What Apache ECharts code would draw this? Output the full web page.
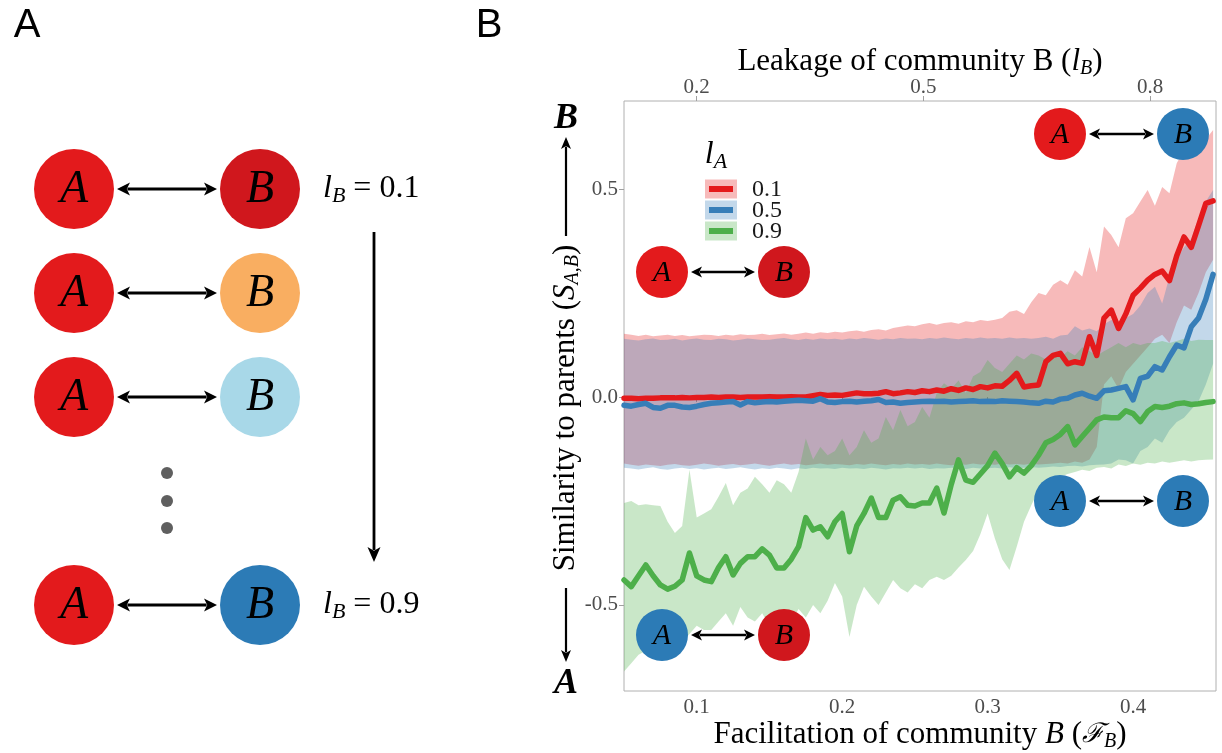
<!DOCTYPE html>
<html>
<head>
<meta charset="utf-8">
<script src="https://cdn.jsdelivr.net/npm/echarts@6/dist/echarts.min.js"></script>
<style>html,body{margin:0;padding:0;background:#fff;}#c{width:1222px;height:753px;}</style>
</head>
<body>
<div id="c"></div>
<script>
// ---------- data ----------
const facilitation = [0.050,0.055,0.060,0.065,0.070,0.075,0.080,0.085,0.090,0.095,
  0.100,0.105,0.110,0.115,0.120,0.125,0.130,0.135,0.140,0.145,
  0.150,0.155,0.160,0.165,0.170,0.175,0.180,0.185,0.190,0.195,
  0.200,0.205,0.210,0.215,0.220,0.225,0.230,0.235,0.240,0.245,
  0.250,0.255,0.260,0.265,0.270,0.275,0.280,0.285,0.290,0.295,
  0.300,0.305,0.310,0.315,0.320,0.325,0.330,0.335,0.340,0.345,
  0.350,0.355,0.360,0.365,0.370,0.375,0.380,0.385,0.390,0.395,
  0.400,0.405,0.410,0.415,0.420,0.425,0.430,0.435,0.440,0.445,
  0.450,0.455];

const legendLabels = ['0.1','0.5','0.9'];
const bottomTicks = [0.1,0.2,0.3,0.4];
const topTicks = [0.2,0.5,0.8];
const leftTicks = [-0.5,0,0.5];

const mean01 = [-0.003,-0.003,-0.004,-0.003,-0.003,-0.002,-0.002,-0.002,-0.001,-0.002,
  -0.001,-0.001,0.000,-0.001,0.000,0.000,-0.001,0.000,0.000,0.000,
  0.001,0.000,0.000,0.001,0.000,0.000,0.003,0.006,0.004,0.005,
  0.004,0.007,0.010,0.008,0.008,0.009,0.013,0.008,0.010,0.013,
  0.011,0.015,0.013,0.017,0.014,0.020,0.016,0.022,0.018,0.025,
  0.022,0.027,0.026,0.040,0.057,0.024,0.027,0.029,0.085,0.100,
  0.105,0.080,0.085,0.081,0.145,0.100,0.190,0.209,0.165,0.200,
  0.245,0.262,0.281,0.295,0.303,0.280,0.340,0.385,0.360,0.412,
  0.466,0.472];
const upper01 = [0.152,0.150,0.147,0.150,0.146,0.148,0.150,0.147,0.149,0.146,
  0.148,0.150,0.149,0.147,0.150,0.148,0.151,0.149,0.150,0.152,
  0.149,0.151,0.153,0.150,0.152,0.155,0.152,0.156,0.154,0.157,
  0.155,0.158,0.160,0.157,0.161,0.163,0.160,0.166,0.169,0.172,
  0.170,0.175,0.178,0.174,0.178,0.180,0.176,0.182,0.180,0.185,
  0.183,0.186,0.190,0.205,0.209,0.200,0.228,0.250,0.245,0.270,
  0.281,0.270,0.305,0.290,0.361,0.300,0.410,0.390,0.360,0.430,
  0.442,0.470,0.498,0.460,0.505,0.490,0.562,0.594,0.585,0.600,
  0.620,0.642];
const lower01 = [-0.160,-0.163,-0.165,-0.162,-0.164,-0.166,-0.163,-0.161,-0.164,-0.165,
  -0.163,-0.160,-0.162,-0.165,-0.163,-0.161,-0.164,-0.162,-0.160,-0.163,
  -0.165,-0.162,-0.160,-0.163,-0.161,-0.164,-0.162,-0.160,-0.163,-0.161,
  -0.162,-0.164,-0.161,-0.163,-0.160,-0.162,-0.164,-0.161,-0.163,-0.160,
  -0.162,-0.161,-0.163,-0.160,-0.162,-0.164,-0.161,-0.163,-0.160,-0.162,
  -0.161,-0.163,-0.160,-0.162,-0.161,-0.163,-0.160,-0.162,-0.161,-0.160,
  -0.158,-0.160,-0.155,-0.158,-0.150,-0.120,0.030,0.050,0.020,0.060,
  0.080,0.100,0.120,0.140,0.150,0.130,0.180,0.220,0.210,0.250,
  0.300,0.330];

const mean05 = [-0.020,-0.022,-0.018,-0.015,-0.025,-0.027,-0.020,-0.020,-0.024,-0.025,
  -0.022,-0.018,-0.015,-0.014,-0.012,-0.011,-0.019,-0.011,-0.014,-0.012,
  -0.011,-0.012,-0.010,-0.009,-0.008,-0.009,-0.010,-0.004,-0.012,-0.013,
  -0.011,-0.010,-0.012,-0.010,-0.009,-0.006,-0.013,-0.012,-0.015,-0.013,
  -0.012,-0.011,-0.010,-0.011,-0.010,-0.012,-0.011,-0.010,-0.009,-0.011,
  -0.010,-0.011,-0.009,-0.010,-0.011,-0.012,-0.014,-0.015,-0.010,-0.012,
  -0.005,-0.003,0.005,0.009,0.002,-0.003,0.015,0.017,0.021,0.025,
  -0.007,0.045,0.050,0.073,0.065,0.097,0.125,0.118,0.169,0.190,
  0.235,0.295];
const upper05 = [0.140,0.138,0.136,0.139,0.141,0.137,0.138,0.140,0.136,0.139,
  0.141,0.138,0.137,0.140,0.139,0.136,0.138,0.141,0.139,0.137,
  0.138,0.140,0.142,0.139,0.137,0.140,0.138,0.141,0.139,0.140,
  0.138,0.141,0.139,0.142,0.140,0.138,0.141,0.139,0.142,0.140,
  0.141,0.139,0.142,0.140,0.143,0.141,0.139,0.142,0.140,0.143,
  0.141,0.142,0.140,0.143,0.141,0.142,0.140,0.142,0.145,0.140,
  0.148,0.150,0.170,0.160,0.165,0.158,0.175,0.185,0.180,0.190,
  0.200,0.220,0.250,0.265,0.225,0.290,0.330,0.360,0.380,0.430,
  0.470,0.498];
const lower05 = [-0.170,-0.172,-0.174,-0.171,-0.169,-0.173,-0.175,-0.172,-0.170,-0.173,
  -0.171,-0.174,-0.172,-0.170,-0.173,-0.171,-0.169,-0.172,-0.174,-0.171,
  -0.173,-0.170,-0.172,-0.174,-0.171,-0.173,-0.170,-0.172,-0.171,-0.173,
  -0.170,-0.172,-0.171,-0.173,-0.170,-0.172,-0.174,-0.171,-0.172,-0.170,
  -0.172,-0.170,-0.173,-0.171,-0.172,-0.170,-0.171,-0.173,-0.170,-0.172,
  -0.171,-0.170,-0.172,-0.169,-0.171,-0.170,-0.168,-0.170,-0.169,-0.167,
  -0.168,-0.166,-0.165,-0.167,-0.164,-0.163,-0.162,-0.160,-0.150,-0.152,
  -0.160,-0.130,-0.120,-0.100,-0.110,-0.080,-0.060,-0.050,-0.030,-0.010,
  0.030,0.080];

const mean09 = [-0.440,-0.456,-0.430,-0.404,-0.430,-0.452,-0.462,-0.455,-0.440,-0.375,
  -0.430,-0.440,-0.444,-0.410,-0.384,-0.428,-0.400,-0.384,-0.384,-0.365,
  -0.380,-0.411,-0.411,-0.390,-0.360,-0.290,-0.320,-0.312,-0.336,-0.300,
  -0.280,-0.372,-0.310,-0.280,-0.243,-0.290,-0.290,-0.248,-0.240,-0.260,
  -0.262,-0.255,-0.255,-0.219,-0.279,-0.210,-0.151,-0.200,-0.205,-0.185,
  -0.165,-0.135,-0.160,-0.192,-0.170,-0.183,-0.165,-0.140,-0.110,-0.102,
  -0.090,-0.071,-0.115,-0.095,-0.075,-0.055,-0.048,-0.050,-0.050,-0.033,
  -0.040,-0.059,-0.035,-0.023,-0.025,-0.022,-0.016,-0.014,-0.018,-0.016,
  -0.013,-0.011];
const upper09 = [-0.255,-0.250,-0.260,-0.258,-0.260,-0.262,-0.300,-0.327,-0.310,-0.175,
  -0.290,-0.280,-0.270,-0.240,-0.207,-0.260,-0.230,-0.220,-0.192,-0.210,
  -0.230,-0.200,-0.210,-0.230,-0.180,-0.100,-0.150,-0.120,-0.140,-0.130,
  -0.100,-0.140,-0.120,-0.080,-0.110,-0.100,-0.048,-0.080,-0.031,-0.070,
  -0.060,-0.024,-0.050,0.010,0.033,0.020,0.040,0.010,0.050,0.060,
  0.089,0.070,0.060,0.080,0.100,0.090,0.105,0.100,0.090,0.100,
  0.095,0.110,0.100,0.120,0.110,0.100,0.110,0.120,0.130,0.120,
  0.130,0.125,0.130,0.130,0.135,0.130,0.135,0.140,0.135,0.138,
  0.137,0.137];
const lower09 = [-0.660,-0.640,-0.620,-0.610,-0.590,-0.600,-0.590,-0.580,-0.590,-0.570,
  -0.550,-0.560,-0.560,-0.540,-0.520,-0.550,-0.505,-0.530,-0.540,-0.520,
  -0.550,-0.560,-0.530,-0.540,-0.510,-0.530,-0.500,-0.520,-0.490,-0.447,
  -0.480,-0.577,-0.500,-0.456,-0.480,-0.500,-0.470,-0.440,-0.460,-0.470,
  -0.450,-0.460,-0.440,-0.432,-0.440,-0.430,-0.410,-0.392,-0.370,-0.330,
  -0.280,-0.340,-0.390,-0.416,-0.360,-0.300,-0.260,-0.224,-0.210,-0.200,
  -0.192,-0.185,-0.180,-0.175,-0.178,-0.170,-0.168,-0.172,-0.162,-0.166,
  -0.160,-0.163,-0.158,-0.160,-0.155,-0.158,-0.155,-0.152,-0.155,-0.152,
  -0.151,-0.150];

// ---------- styling ----------
const SERIF = "'Liberation Serif','DejaVu Serif',serif";
const SANS = "'Liberation Sans','DejaVu Sans',sans-serif";
const COLORS = ['#e41a1c','#377eb8','#4daf4a'];
const BANDS = ['rgba(228,26,28,0.3)','rgba(55,126,184,0.3)','rgba(77,175,74,0.3)'];

const pts = ys => facilitation.map((x,i)=>[x, ys[i]]);

const groups = [
  {mean: mean01, lo: lower01, hi: upper01},
  {mean: mean05, lo: lower05, hi: upper05},
  {mean: mean09, lo: lower09, hi: upper09}
];

const series = [];
// ribbons: one polygon per group, placed through the axis scales (api.coord)
groups.forEach((g,k)=>{
  series.push({
    type:'custom', silent:true, z:1, animation:false, clip:true,
    data: facilitation.map((x,i)=>[x, g.lo[i], g.hi[i]]),
    encode:{x:0, y:[1,2]},
    renderItem:(params, api)=>{
      if (params.dataIndex !== 0) return null;
      const top = [], bot = [];
      for (let i=0;i<facilitation.length;i++){
        top.push(api.coord([facilitation[i], g.hi[i]]));
        bot.push(api.coord([facilitation[i], g.lo[i]]));
      }
      return {type:'polygon', shape:{points: top.concat(bot.reverse())}, style:{fill:BANDS[k]}};
    }
  });
});
groups.forEach((g,k)=>{
  series.push({type:'line', data: pts(g.mean), symbol:'none', silent:true, z:3, animation:false,
    lineStyle:{color:COLORS[k], width:5.5, join:'round', cap:'round'}});
});

// ---------- decoration helpers ----------
function circ(cx,cy,r,fill){return {type:'circle', shape:{cx,cy,r}, style:{fill}, z:100, silent:true};}
function letter(x,y,t,size,extra){return {type:'text', x, y, z:101, silent:true,
  style:Object.assign({text:t, fontSize:size, fontFamily:SERIF, fontStyle:'italic', fill:'#000', align:'center', verticalAlign:'middle'}, extra||{})};}
function hArrow(x1,x2,y,lw,hl,hw){return [
  {type:'line', shape:{x1:x1+hl*0.8, y1:y, x2:x2-hl*0.8, y2:y}, style:{stroke:'#000', lineWidth:lw}, z:101, silent:true},
  {type:'polygon', shape:{points:[[x1,y],[x1+hl,y-hw],[x1+hl*0.75,y],[x1+hl,y+hw]]}, style:{fill:'#000'}, z:101, silent:true},
  {type:'polygon', shape:{points:[[x2,y],[x2-hl,y-hw],[x2-hl*0.75,y],[x2-hl,y+hw]]}, style:{fill:'#000'}, z:101, silent:true}];}
function vArrow(x,y1,y2,lw,hl,hw){const d=Math.sign(y2-y1);return [
  {type:'line', shape:{x1:x, y1:y1, x2:x, y2:y2-d*hl*0.8}, style:{stroke:'#000', lineWidth:lw}, z:101, silent:true},
  {type:'polygon', shape:{points:[[x,y2],[x-hw,y2-d*hl],[x,y2-d*hl*0.75],[x+hw,y2-d*hl]]}, style:{fill:'#000'}, z:101, silent:true}];}
function pair(ax,bx,y,r,fa,fb,fs,lw,hl,hw){return [circ(ax,y,r,fa), circ(bx,y,r,fb), letter(ax,y+1,'A',fs), letter(bx,y+1,'B',fs)]
  .concat(hArrow(ax+r+3, bx-r-3, y, lw, hl, hw));}

const RED='#e31a1c', DRED='#d0171d', ORANGE='#f9ae61', LBLUE='#a8d8e8', BLUE='#2c7bb6';

const graphic = [];
// panel letters
graphic.push({type:'text', x:27, y:26, style:{text:'A', fontFamily:SANS, fontSize:40, fill:'#000', align:'center', verticalAlign:'middle'}});
graphic.push({type:'text', x:489, y:26, style:{text:'B', fontFamily:SANS, fontSize:40, fill:'#000', align:'center', verticalAlign:'middle'}});
// panel A rows
const rowY = [189, 293, 397, 605];
const rowB = [DRED, ORANGE, LBLUE, BLUE];
rowY.forEach((y,i)=>{ pair(74,260,y,40,RED,rowB[i],46,2.8,13,6.5).forEach(e=>graphic.push(e)); });
[473,501,528].forEach(y=>graphic.push({type:'circle', shape:{cx:167,cy:y,r:6}, style:{fill:'#5f5f5f'}}));
vArrow(374,232,562,2.8,15,6.5).forEach(e=>graphic.push(e));
function mathText(x,y,text,size,subSize,align){return {type:'text', x, y, z:101, style:{
  text, fontFamily:SERIF, fontSize:size, lineHeight:size+5, fill:'#000', align, verticalAlign:'middle',
  rich:{i:{fontStyle:'italic', fontFamily:SERIF, fontSize:size, lineHeight:size+5},
        sub:{fontStyle:'italic', fontFamily:SERIF, fontSize:subSize, lineHeight:subSize-4, verticalAlign:'bottom'}}}};}
graphic.push(mathText(323,189,'{i|l}{sub|B} = 0.1',32,22,'left'));
graphic.push(mathText(323,605,'{i|l}{sub|B} = 0.9',32,22,'left'));

// panel B insets
pair(1060,1183,134,26,RED,BLUE,30,2.4,11,5.5).forEach(e=>graphic.push(e));
pair(662,784,272,26,RED,DRED,30,2.4,11,5.5).forEach(e=>graphic.push(e));
pair(1060,1183,501,26,BLUE,BLUE,30,2.4,11,5.5).forEach(e=>graphic.push(e));
pair(662,784,635,26,BLUE,DRED,30,2.4,11,5.5).forEach(e=>graphic.push(e));

// legend
graphic.push(mathText(716,155,'{i|l}{sub|A}',32,22,'center'));
legendLabels.forEach((lab,k)=>{
  const cy = 189 + k*21;
  graphic.push({type:'rect', shape:{x:705, y:cy-9.5, width:32, height:19}, style:{fill:BANDS[k]}, z:100});
  graphic.push({type:'line', shape:{x1:709, y1:cy, x2:733, y2:cy}, style:{stroke:COLORS[k], lineWidth:6}, z:101});
  graphic.push({type:'text', x:752, y:cy+1, z:101, style:{text:lab, fontFamily:SERIF, fontSize:24, fill:'#1a1a1a', align:'left', verticalAlign:'middle'}});
});

// y-axis direction arrows
vArrow(566,236,137,2.2,12,5).forEach(e=>graphic.push(e));
vArrow(566,588,662,2.2,12,5).forEach(e=>graphic.push(e));
graphic.push(letter(566,119,'B',36,{fontWeight:'bold'}));
graphic.push(letter(566,684,'A',36,{fontWeight:'bold'}));

const tickLabelStyle = {color:'#4d4d4d', fontFamily:SERIF, fontSize:21};
const NAME_FS = 31;
const nameStyle = (extra)=>Object.assign({color:'#000', fontFamily:SERIF, fontSize:NAME_FS, lineHeight:34,
  rich:{
    i:{fontStyle:'italic', fontFamily:SERIF, fontSize:NAME_FS, lineHeight:34},
    s:{fontStyle:'italic', fontFamily:"'DejaVu Serif',serif", fontSize:27, lineHeight:34},
    sub:{fontStyle:'italic', fontFamily:SERIF, fontSize:20, lineHeight:16, verticalAlign:'bottom'}
  }}, extra||{});

const option = {
  animation:false,
  backgroundColor:'#fff',
  grid:{left:624, top:101, width:592, height:590, show:true, borderColor:'#b0b0b0', borderWidth:1, backgroundColor:'transparent', containLabel:false, outerBoundsMode:'none'},
  xAxis:[
    {type:'value', position:'bottom', min:0.05, max:0.457,
     axisLine:{show:false}, splitLine:{show:false},
     axisTick:{show:true, length:5, lineStyle:{color:'#a0a0a0'}, customValues:bottomTicks},
     axisLabel:{...tickLabelStyle, margin:6, customValues:bottomTicks, formatter:v=>v.toFixed(1)},
     name:'Facilitation of community {i|B} ({s|ℱ}{sub|B})', nameLocation:'middle', nameGap:27, nameMoveOverlap:false,
     nameTextStyle:nameStyle()},
    {type:'value', position:'top', min:0.104, max:0.887,
     axisLine:{show:false}, splitLine:{show:false},
     axisTick:{show:true, length:5, lineStyle:{color:'#a0a0a0'}, customValues:topTicks},
     axisLabel:{...tickLabelStyle, margin:3, customValues:topTicks, formatter:v=>v.toFixed(1)},
     name:'Leakage of community B ({i|l}{sub|B})', nameLocation:'middle', nameGap:22, nameMoveOverlap:false,
     nameTextStyle:nameStyle()}
  ],
  yAxis:[{type:'value', min:-0.707, max:0.712,
    axisLine:{show:false}, splitLine:{show:false},
    axisTick:{show:true, length:5, lineStyle:{color:'#a0a0a0'}, customValues:leftTicks},
    axisLabel:{...tickLabelStyle, margin:6, customValues:leftTicks, formatter:v=>v.toFixed(1)},
    name:'Similarity to parents ({i|S}{sub|A,B})', nameLocation:'middle', nameGap:41, nameRotate:90, nameMoveOverlap:false,
    nameTextStyle:nameStyle({padding:[0,24,0,0]})}],
  series:series,
  graphic:graphic
};

const chart = echarts.init(document.getElementById('c'), null, {renderer:'canvas', width:1222, height:753});
chart.setOption(option);
</script>
</body>
</html>
